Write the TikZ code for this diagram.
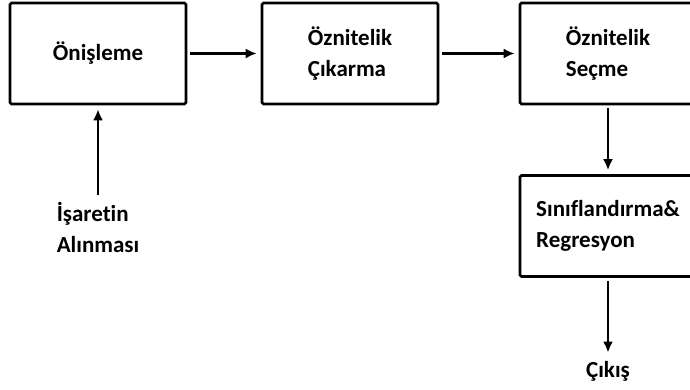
\documentclass[tikz,border=0pt]{standalone}
\usepackage{fontspec}
\setmainfont{Carlito}[Ligatures=NoCommon]
\usepackage{tikz}
\usetikzlibrary{arrows.meta}
\tikzstyle{block} = [rectangle, draw, line width=2.6pt, rounded corners=1.5pt, fill=white, minimum width=176pt, minimum height=101pt, align=left]
\tikzstyle{invis} = [draw=none, align=left]

\begin{document}
\begin{tikzpicture}[x=1pt,y=-1pt,->,>={Latex[length=11pt,width=10pt]},line width=2.2pt,shorten >=4pt,shorten <=3pt,auto,node distance=252pt,font=\fontsize{23}{31}\selectfont\bfseries]
  \clip (0,0) rectangle (690,389);
  \node[block] (Pre) at (98,53.5) {Önişleme};
  \node[block] (FeatEx) [right of=Pre] {Öznitelik\\Çıkarma};
  \node[block] (FeatSel) [right of=FeatEx, node distance=258pt] {Öznitelik\\Seçme};
  \node[block] (Cls) [below of=FeatSel, node distance=172.5pt] {Sınıflandırma\&\\Regresyon};
  \node[invis] (In) [below of=Pre, node distance=174pt] {İşaretin\\Alınması};
  \node[invis] (Out) [below of=Cls, node distance=145pt] {Çıkış};

  \path (Pre) edge node {} (FeatEx);
  \path (FeatEx) edge node {} (FeatSel);
  \path (FeatSel) edge node {} (Cls);
  \path (In) edge node {} (Pre);
  \path (Cls) edge node {} (Out);
\end{tikzpicture}
\end{document}
